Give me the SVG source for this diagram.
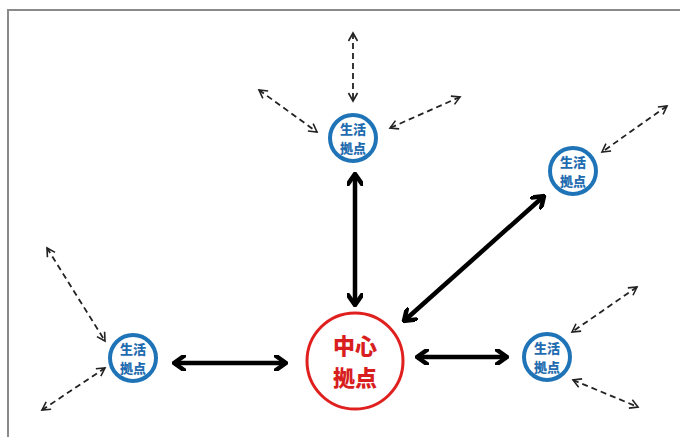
<svg xmlns="http://www.w3.org/2000/svg" width="680" height="437" viewBox="0 0 680 437">
<style>
.frame{fill:none;stroke:#8a8a8a;stroke-width:2}
.sub circle{fill:#fff;stroke:#1f74b8;stroke-width:4}
.sub text{fill:#1f6db0;font-family:"Noto Sans CJK JP","Noto Sans CJK SC",sans-serif;font-weight:900;font-size:13px;text-anchor:middle}
.hub circle{fill:#fff;stroke:#e0201e;stroke-width:3}
.hub text{fill:#d81e1e;font-family:"Noto Sans CJK JP","Noto Sans CJK SC",sans-serif;font-weight:900;font-size:22px;text-anchor:middle}
.solid{stroke:#000;stroke-width:4.5;fill:none;marker-start:url(#hs);marker-end:url(#hs)}
.dash{stroke:#222;stroke-width:1.8;stroke-dasharray:6 4;fill:none;marker-start:url(#hd);marker-end:url(#hd)}
</style>
<defs>
<marker id="hs" viewBox="-12 -8 14 16" refX="0" refY="0" markerWidth="14" markerHeight="16" markerUnits="userSpaceOnUse" orient="auto-start-reverse">
<path d="M-10,-7 L0,0 L-10,7" fill="none" stroke="#000" stroke-width="4.5" stroke-linecap="round" stroke-linejoin="miter"/>
</marker>
<marker id="hd" viewBox="-10 -6 12 12" refX="0" refY="0" markerWidth="12" markerHeight="12" markerUnits="userSpaceOnUse" orient="auto-start-reverse">
<path d="M-8,-4.5 L0,0 L-8,4.5" fill="none" stroke="#222" stroke-width="1.6"/>
</marker>
</defs>
<path class="frame" d="M8,437 V10 H680"/>
<g id="connectors">
<line class="solid" x1="355" y1="174" x2="355" y2="305"/>
<line class="solid" x1="404" y1="321" x2="544" y2="196"/>
<line class="solid" x1="174" y1="363" x2="286" y2="363"/>
<line class="solid" x1="417" y1="357" x2="507" y2="357"/>
<line class="dash" x1="353" y1="33" x2="353" y2="101"/>
<line class="dash" x1="259" y1="90" x2="317" y2="132"/>
<line class="dash" x1="460" y1="97" x2="390" y2="128"/>
<line class="dash" x1="667" y1="106" x2="602" y2="152"/>
<line class="dash" x1="47" y1="248" x2="105" y2="341"/>
<line class="dash" x1="42" y1="410" x2="105" y2="368"/>
<line class="dash" x1="637" y1="287" x2="572" y2="332"/>
<line class="dash" x1="573" y1="380" x2="638" y2="407"/>
</g>
<g id="hub" class="hub">
<circle cx="355" cy="361" r="48"/>
<text x="355" y="354">中心</text>
<text x="355" y="386">拠点</text>
</g>
<g id="node-top" class="sub">
<circle cx="353" cy="138" r="23"/>
<text x="353" y="134">生活</text>
<text x="353" y="153">拠点</text>
</g>
<g id="node-upper-right" class="sub">
<circle cx="573" cy="171" r="23"/>
<text x="573" y="167">生活</text>
<text x="573" y="186">拠点</text>
</g>
<g id="node-left" class="sub">
<circle cx="133" cy="358" r="23"/>
<text x="133" y="354">生活</text>
<text x="133" y="373">拠点</text>
</g>
<g id="node-lower-right" class="sub">
<circle cx="547" cy="357" r="23"/>
<text x="547" y="353">生活</text>
<text x="547" y="372">拠点</text>
</g>
</svg>
